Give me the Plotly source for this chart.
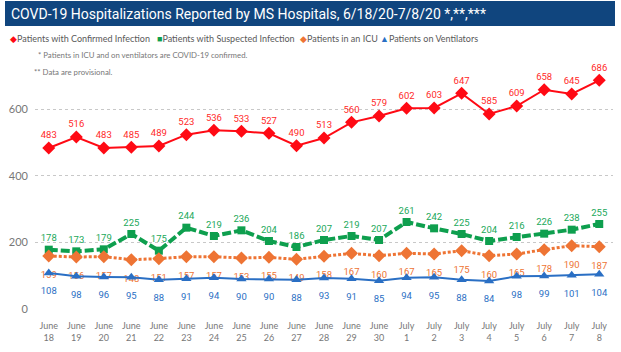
import plotly.graph_objects as go

dates = ["June<br>18", "June<br>19", "June<br>20", "June<br>21", "June<br>22", "June<br>23",
         "June<br>24", "June<br>25", "June<br>26", "June<br>27", "June<br>28", "June<br>29",
         "June<br>30", "July<br>1", "July<br>2", "July<br>3", "July<br>4", "July<br>5",
         "July<br>6", "July<br>7", "July<br>8"]
confirmed = [483, 516, 483, 485, 489, 523, 536, 533, 527, 490, 513, 560, 579, 602, 603, 647, 585, 609, 658, 645, 686]
suspected = [178, 173, 179, 225, 175, 244, 219, 236, 204, 186, 207, 219, 207, 261, 242, 225, 204, 216, 226, 238, 255]
icu = [159, 156, 157, 148, 151, 157, 157, 153, 155, 149, 158, 167, 160, 167, 165, 175, 160, 165, 178, 190, 187]
vent = [108, 98, 96, 95, 88, 91, 94, 90, 90, 88, 93, 91, 85, 94, 95, 88, 84, 98, 99, 101, 104]
y_ticks = [0, 200, 400, 600]

series_names = ["Patients with Confirmed Infection", "Patients with Suspected Infection",
                "Patients in an ICU", "Patients on Ventilators"]

RED = "#FF0A14"
GREEN = "#0E9F4E"
ORANGE = "#EE7434"
BLUE = "#2A6FC4"
LABEL_FONT = "Roboto, sans-serif"
W, H = 621, 352
L, R, T, B = 35, 8, 59, 43
PW, PH = W - L - R, H - T - B


def px_x(p):
    return (p - L) / PW


def px_y(p):
    return (H - B - p) / PH


fig = go.Figure()
specs = [
    (confirmed, RED, "#FF2A2A", "diamond", 10, dict(width=2), "top center", 0),
    (suspected, GREEN, "#1AA85A", "square", 8, dict(width=4, dash="9px,3px"), "top center", 0),
    (icu, ORANGE, "#EE7434", "diamond", 10, dict(width=3, dash="3px,2px"), "bottom center", 12),
    (vent, BLUE, "#2A6FC4", "triangle-up", 9, dict(width=2), "bottom center", 12),
]
for name, (vals, col, tcol, sym, size, line, tpos, extra) in zip(series_names, specs):
    labels = [str(v) for v in vals]
    fig.add_trace(go.Scatter(
        x=dates, y=vals, name=name, mode="lines+markers" if extra else "lines+markers+text",
        line=dict(color=col, **line),
        marker=dict(symbol=sym, size=size, color=col),
        text=labels, textposition=tpos,
        textfont=dict(family=LABEL_FONT, size=9.5, color=tcol),
        showlegend=False, cliponaxis=False,
    ))
    if extra:
        fig.add_trace(go.Scatter(
            x=dates, y=vals, name=name + " labels", mode="markers+text",
            marker=dict(size=size + extra, opacity=0, color=col),
            text=labels, textposition=tpos,
            textfont=dict(family=LABEL_FONT, size=9.5, color=tcol),
            showlegend=False, cliponaxis=False, hoverinfo="skip",
        ))

# banner
fig.add_shape(type="rect", xref="paper", yref="paper",
              x0=px_x(5), x1=px_x(615), y0=px_y(26), y1=px_y(1),
              fillcolor="#10457E", line=dict(width=0), layer="above")
fig.add_annotation(xref="paper", yref="paper", x=px_x(9), y=px_y(13.5),
                   xanchor="left", yanchor="middle", showarrow=False,
                   text="COVD-19 Hospitalizations Reported by MS Hospitals, 6/18/20-7/8/20 *,**,***",
                   font=dict(family="Roboto, sans-serif", size=14, color="white"))

# legend
leg_x = [8, 155, 298, 378]
syms = ["◆", "■", "◆", "▲"]
cols = [RED, GREEN, ORANGE, BLUE]
for lx, s, c, n in zip(leg_x, syms, cols, series_names):
    fig.add_annotation(xref="paper", yref="paper", x=px_x(lx), y=px_y(39),
                       xanchor="left", yanchor="middle", showarrow=False,
                       text=f'<span style="color:{c}">{s}</span>{n}',
                       font=dict(family="Lato, sans-serif", size=9.0, color="#595959"))

fig.add_annotation(xref="paper", yref="paper", x=px_x(36), y=px_y(55),
                   xanchor="left", yanchor="middle", showarrow=False,
                   text="* Patients in ICU and on ventilators are COVID-19 confirmed.",
                   font=dict(family="Lato, sans-serif", size=7.8, color="#777777"))
fig.add_annotation(xref="paper", yref="paper", x=px_x(32), y=px_y(72),
                   xanchor="left", yanchor="middle", showarrow=False,
                   text="** Data are provisional.",
                   font=dict(family="Lato, sans-serif", size=7.8, color="#777777"))

fig.update_layout(
    width=W, height=H, autosize=False,
    margin=dict(l=L, r=R, t=T, b=B, pad=0),
    paper_bgcolor="white", plot_bgcolor="white",
    showlegend=False,
    font=dict(family="Lato, sans-serif", color="#777777"),
)
fig.update_xaxes(type="category", range=[-0.5, 20.5], showgrid=False, showline=False,
                 zeroline=False, ticks="", tickfont=dict(size=9, color="#777777"),
                 automargin=False, tickangle=0, ticklabelstandoff=10)
fig.update_yaxes(range=[0, 750], tickvals=y_ticks, showgrid=True, gridcolor="#C8C8C8",
                 griddash="dot", gridwidth=1, zeroline=False, showline=False, ticks="",
                 tickfont=dict(size=11, color="#777777"), automargin=False, ticklabelstandoff=6)

fig.write_html("out.html")
